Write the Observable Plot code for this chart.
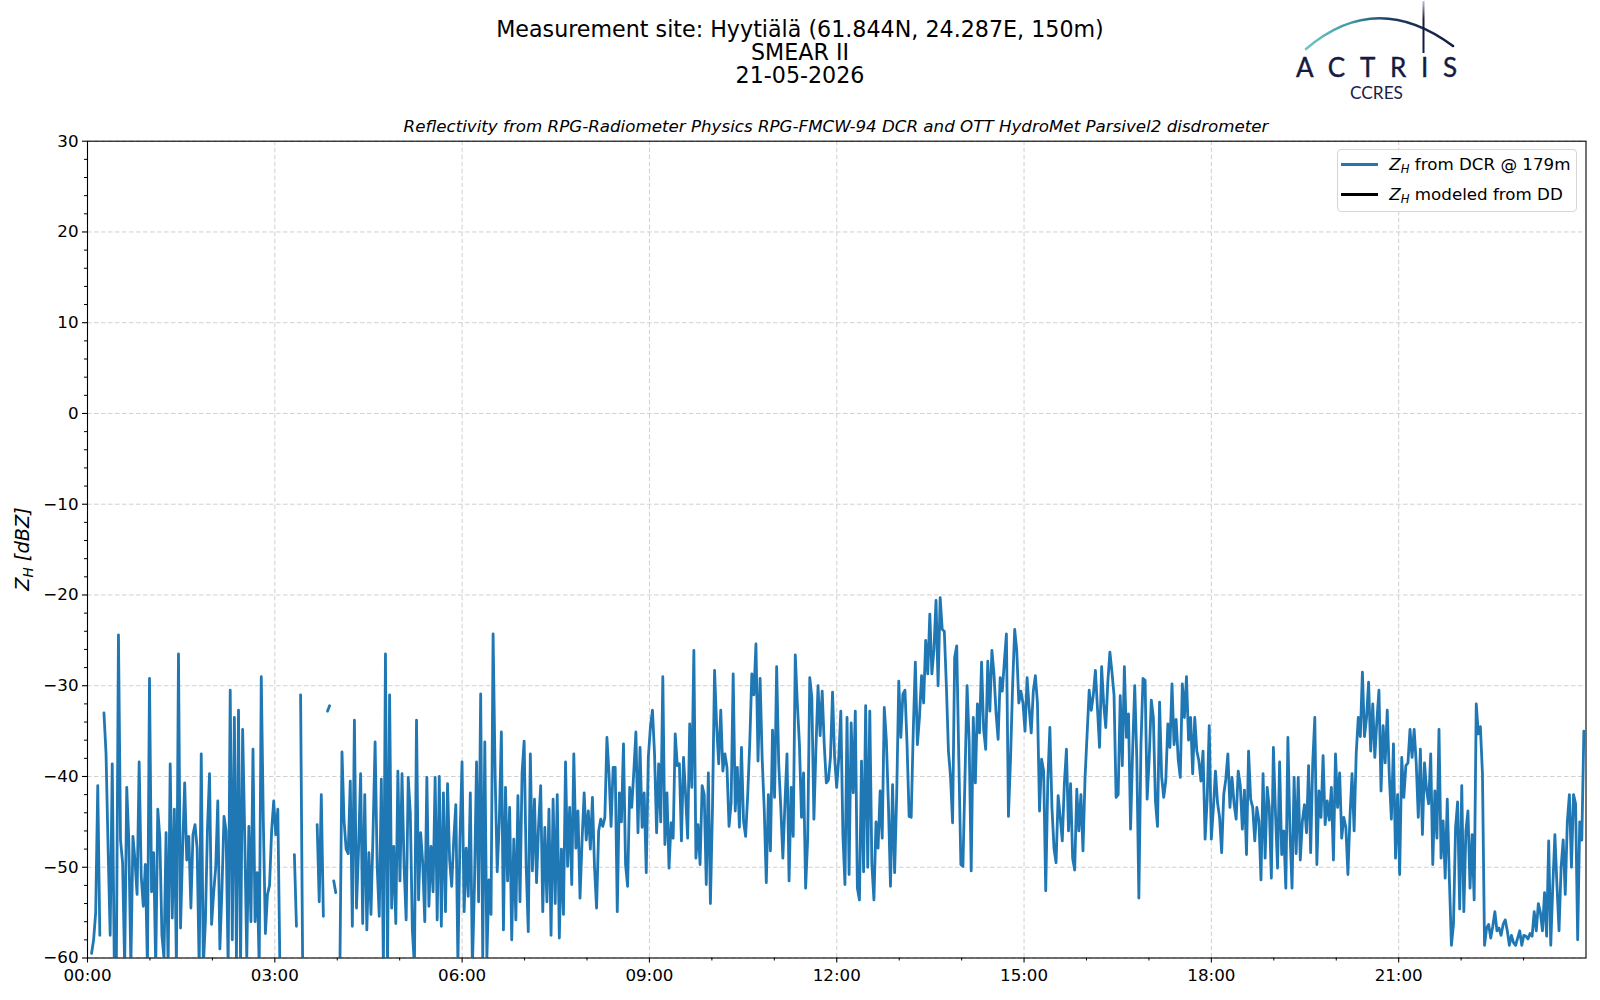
<!DOCTYPE html>
<html>
<head>
<meta charset="utf-8">
<script src="https://cdn.jsdelivr.net/npm/d3@7"></script>
<script src="https://cdn.jsdelivr.net/npm/@observablehq/plot@0.6"></script>
<style>
  html, body { margin: 0; padding: 0; background: #fff; }
  #wrap { position: relative; width: 1600px; height: 1000px; font-family: "DejaVu Sans", sans-serif; color: #000; overflow: hidden; }
  #wrap > svg { position: absolute; left: 0; top: 0; }
  .t { position: absolute; white-space: nowrap; line-height: 1; }
  .c { transform: translate(-50%, -50%); }
  .vc { transform: translateY(-50%); }
  sub { font-size: 0.7em; vertical-align: -0.28em; line-height: 0; }
</style>
</head>
<body>
<div id="wrap"></div>
<script>
// ---------------- data ----------------
const titleLines = ["Measurement site: Hyytiälä (61.844N, 24.287E, 150m)", "SMEAR II", "21-05-2026"];
const subtitle = "Reflectivity from RPG-Radiometer Physics RPG-FMCW-94 DCR and OTT HydroMet Parsivel2 disdrometer";
const legendLabels = ["from DCR @ 179m", "modeled from DD"];
const legendColors = ["#1f77b4", "#000000"];

const xMajorHours = [0, 3, 6, 9, 12, 15, 18, 21];
const xMinorHours = [1, 2, 4, 5, 7, 8, 10, 11, 13, 14, 16, 17, 19, 20, 22, 23];
const yMajorTicks = [-60, -50, -40, -30, -20, -10, 0, 10, 20, 30];
const yMinorTicks = [-58,-56,-54,-52,-48,-46,-44,-42,-38,-36,-34,-32,-28,-26,-24,-22,-18,-16,-14,-12,-8,-6,-4,-2,2,4,6,8,12,14,16,18,22,24,26,28];

// Z_H from DCR @ 179m, sampled about every 2 minutes (null = no data)
const firstMinute = 1.9;
const stepMinutes = 1.989;
const zhDcr = [
 null,-59.5,-58,-55,-41,-57.5,null,-33,-37.5,-48,
 -57.5,-38.6,-61,-60.5,-24.4,-47,-49.5,-61,-41.2,-47,
 -61,-46.6,-49.3,-53,-38.4,-51,-54.3,-49.7,-61,-29.2,
 -52.7,-48.4,-61,-43.6,-46.8,-57.5,-60,-46.2,-61,-38.6,
 -55.6,-43.6,-61,-26.5,-56.7,-48,-40.7,-49.2,-46.6,-54.5,
 -46.4,-45.3,-47.9,-61,-37.5,-61,-56,-45.8,-39.7,-56.3,
 -52.8,-50,-42.7,-59,-52.5,-44.4,-46,-61,-30.5,-58,
 -33.5,-60,-32.7,-61,-34.8,-46.4,-60,-45.5,-56,-37,
 -56,-50.6,-61,-29,-45,-57.3,-53,-52,-46,-42.7,
 -46.4,-43.6,-61,null,null,null,null,null,null,-48.6,
 -56.5,null,-31,-61,null,null,null,null,null,null,
 -45.3,-53.8,-42,-55.4,null,-32.8,-32.2,null,-51.5,-52.8,
 null,-61,-37.3,-44.9,-48,-48.5,-40.5,-56.5,-33.8,-54.5,
 -48,-39.7,-56.2,-42,-56.9,-48.4,-55.2,-46.2,-36.2,-49.9,
 -55.4,-40.3,-61,-26.5,-61,-31,-54.5,-47.7,-56.2,-39.4,
 -51.5,-39.7,-49.9,-55.8,-40.1,-44,-56.9,-61,-33.8,-53.6,
 -46.2,-49.5,-56,-40.1,-54.3,-47.7,-52.7,-40.1,-55.8,-40,
 -56.5,-41.8,-54.9,-40.8,-49.2,-52.1,-46.9,-43.1,-60.5,-46.9,
 -38.4,-54.9,-47.9,-53.2,-41.8,-61,-52,-38.4,-53.8,-30.9,
 -60,-36.2,-60,-51.4,-55.2,-24.3,-40,-50.5,-45,-35.1,
 -56.9,-41.2,-51.5,-43.4,-58,-46.9,-55.8,-42.1,-53.8,-39.6,
 -36.1,-50,-57.1,-37.5,-50.4,-42.5,-51.7,-45.3,-41,-54.9,
 -45.6,-53.8,-43.6,-57.5,-42.5,-54,-42,-57.8,-48,-55.2,
 -38.4,-49.9,-43.4,-51.9,-37.5,-47.9,-43.8,-53.4,-47,-41.8,
 -47,-43.8,-48,-42.3,-50,-54.5,-46,-44.7,-45.5,-44.5,
 -35.7,-39.7,-45.5,-39,-39,-54.9,-41.8,-45,-36.4,-49.7,
 -52.1,-41.2,-43.4,-39.4,-35.1,-46.2,-36.8,-45.6,-41.8,-50.6,
 -37.9,-34.6,-32.7,-37.5,-46.2,-38.6,-45,-29,-47.5,-41.8,
 -50.1,-45.1,-46.8,-35.3,-38.8,-38.6,-47.1,-37.9,-42,-46.8,
 -34.2,-41.2,-26.1,-49,-45.3,-49.7,-41,-42,-51.9,-39.6,
 -54,-43.5,-28.3,-34.4,-38.6,-32.7,-39.4,-37.5,-39,-45.5,
 -42.9,-28.7,-43.8,-39,-45.6,-36.8,-44.9,-46.6,-42.1,-36.4,
 -28.7,-31,-25.4,-38.3,-29.2,-38,-43.6,-51.7,-42,-48.2,
 -34.9,-42.3,-27.9,-38.6,-43.4,-49,-43,-37.5,-51.5,-41.2,
 -46.6,-26.6,-32,-36.4,-44.5,-39.6,-52.3,-46.8,-29.1,-31.3,
 -44.7,-36.8,-30,-35.5,-30.6,-36.5,-40.7,-40.4,-37.9,-30.7,
 -37.9,-41.2,-38,-32.8,-46.4,-51.9,-33.5,-50.8,-34.1,-41.8,
 -32.8,-52.3,-53.6,-38.3,-50.5,-32.2,-50,-32.8,-49.7,-53.6,
 -45,-47.9,-41.6,-46.8,-32.4,-36,-43.1,-52.1,-40.9,-50.6,
 -42,-29.5,-35.7,-30.9,-30.5,-36.5,-44.4,-44.5,-35,-27.4,
 -36.5,-33.5,-28.9,-31.9,-25,-28.7,-22.1,-28.7,-26,-20.6,
 -30,-20.3,-23.8,-24,-30,-37.2,-40,-45.1,-26.9,-25.6,
 -38,-49.7,-49.9,-40,-30,-36,-50.4,-33.5,-40.7,-32,
 -35.2,-27.4,-34.8,-37,-27.3,-32.8,-26.1,-28.7,-33,-35.9,
 -29.1,-30.6,-27.4,-24.3,-44.4,-38,-30,-23.8,-26.1,-31.9,
 -30.6,-31.9,-35,-29.1,-32.5,-35.2,-30.6,-28.9,-31.9,-43.8,
 -38.1,-39.4,-52.6,-40.5,-34.6,-43.4,-47.9,-49.5,-42.1,-44.5,
 -47.1,-40.8,-37,-46,-40.8,-49,-50.3,-41.4,-46,-42,
 -48.2,-40.1,-35.3,-30.5,-32.7,-31,-28.3,-32.5,-36.8,-27.9,
 -32,-34.6,-29.6,-26.3,-28.5,-31,-42.3,-42,-31.1,-38.8,
 -27.9,-35.7,-33.1,-45.8,-37,-30,-38,-53.4,-36.6,-29.2,
 -29.4,-42.5,-38,-31.6,-33.5,-42.7,-45.5,-31.8,-40,-42.3,
 -40.5,-34.2,-36.8,-29.8,-36.5,-33.7,-38.1,-40.1,-29.8,-33.5,
 -29,-36,-33.5,-39.7,-33.5,-37.2,-38.3,-40.5,-37.2,-46.9,
 -42.5,-34.4,-46.9,-43.5,-39.4,-42.9,-44.5,-48.4,-42,-40.3,
 -37.5,-43.4,-40.1,-43,-44.7,-39.4,-41,-45.8,-41.5,-48.6,
 -37.2,-42.5,-43.4,-47.1,-43.4,-44.9,-51.4,-39.7,-49,-41.2,
 -43.4,-51.2,-36.8,-44,-50.1,-38.4,-48.6,-46,-52.3,-35.7,
 -46,-52.3,-40.1,-48.5,-40.1,-49.2,-44.9,-43.1,-46.2,-38.8,
 -48.4,-38.5,-33.5,-49.7,-41.6,-44.5,-37.7,-45.3,-42.7,-44.8,
 -41.2,-49.2,-37.5,-43.4,-39.6,-46.8,-44.5,-45.6,-50.8,-44.4,
 -39.7,-46,-37.5,-33.5,-35.6,-28.5,-35.6,-33.5,-29.6,-37.2,
 -32,-37.9,-33.8,-30.5,-41.6,-34.4,-38.5,-32.7,-40,-44.7,
 -36.4,-49,-42,-50.8,-37.9,-42.3,-38.8,-38.5,-34.8,-37.9,
 -34.8,-38.5,-44.5,-37,-46.4,-38.5,-41.5,-43,-37.5,-49.7,
 -41.6,-46.8,-34.8,-49,-44.9,-51.2,-42.5,-51.2,-58.6,-56.3,
 -45.7,-42.8,-54.6,-41,-54.9,-46,-43.8,-52.3,-46.4,-53.6,
 -32,-35.3,-34.5,-39.7,-58.6,-56.7,-56.3,-57.8,-56.5,-54.9,
 -57,-56.7,-57.5,-56.3,-55.8,-57,-58.6,-57.5,-58.3,-58.6,
 -57.8,-57,-58.6,-57.5,-57.6,-57.9,-57.3,-57.6,-54.9,-57,
 -54,-55,-57,-52.8,-57.6,-47.1,-58.6,-52,-46.4,-52,
 -57,-50,-47,-53,-45,-42,-50,-42,-43,-58,
 -45,-47,-35
];

// ---------------- chart ----------------
const series = zhDcr.map((z, i) => ({ h: (firstMinute + i * stepMinutes) / 60, z }));
const fmtHour = h => String(h).padStart(2, "0") + ":00";
const fmtNum = v => (v < 0 ? "\u2212" + Math.abs(v) : String(v));
const gridStyle = { stroke: "#cbcbcb", strokeOpacity: 1, strokeWidth: 0.9, strokeDasharray: "4.5,2.5" };

const chart = Plot.plot({
  width: 1600,
  height: 1000,
  marginLeft: 87,
  marginRight: 14.5,
  marginTop: 140.7,
  marginBottom: 42.5,
  x: { domain: [0, 24] },
  y: { domain: [-60, 30] },
  style: { fontFamily: '"DejaVu Sans", sans-serif', fontSize: "16.7px", color: "#000", background: "transparent", overflow: "visible" },
  marks: [
    Plot.gridX({ ticks: xMajorHours, ...gridStyle }),
    Plot.gridY({ ticks: yMajorTicks, ...gridStyle }),
    Plot.line(series, { x: "h", y: "z", stroke: "#1f77b4", strokeWidth: 2.8, clip: true }),
    Plot.frame({ stroke: "#000", strokeWidth: 1.1 }),
    Plot.axisX({ ticks: xMajorHours, tickSize: 5, tickPadding: 6, tickFormat: fmtHour, label: null, fontSize: 16.7, strokeWidth: 1.1 }),
    Plot.axisX({ ticks: xMinorHours, tickSize: 3, tickFormat: () => "", label: null, strokeWidth: 1 }),
    Plot.axisY({ ticks: yMajorTicks, tickSize: 5, tickPadding: 4, tickFormat: fmtNum, label: null, fontSize: 16.7, strokeWidth: 1.1 }),
    Plot.axisY({ ticks: yMinorTicks, tickSize: 3, tickFormat: () => "", label: null, strokeWidth: 1 })
  ]
});

const wrap = document.getElementById("wrap");
wrap.appendChild(chart);

function addText(html, style, cls) {
  const d = document.createElement("div");
  d.className = "t " + (cls || "");
  d.innerHTML = html;
  Object.assign(d.style, style);
  wrap.appendChild(d);
  return d;
}

// title block (three centred lines in one text block)
addText(titleLines.join("<br>"), {
  left: "800px", top: "18px", fontSize: "22.2px", lineHeight: "23.1px",
  textAlign: "center", transform: "translateX(-50%)"
});
addText(subtitle, { left: "836px", top: "125.6px", fontSize: "16.7px", fontStyle: "italic" }, "c");

// y label
addText("Z<sub>H</sub> [dBZ]", { left: "22.5px", top: "549px", fontSize: "19.4px", fontStyle: "italic", transform: "translate(-50%,-50%) rotate(-90deg)" });

// legend
const box = document.createElement("div");
Object.assign(box.style, {
  position: "absolute", left: "1336.7px", top: "148.7px", width: "240.6px", height: "63.3px",
  boxSizing: "border-box", border: "1px solid #d6d6d6", borderRadius: "4px", background: "rgba(255,255,255,0.85)"
});
wrap.appendChild(box);
const legendY = [164.3, 194];
legendLabels.forEach((lab, i) => {
  const sw = document.createElement("div");
  Object.assign(sw.style, { position: "absolute", left: "1341px", top: Math.round(legendY[i] - 1.5) + "px", width: "36.7px", height: "3px", background: legendColors[i] });
  wrap.appendChild(sw);
  addText("<i>Z<sub>H</sub></i> " + lab, { left: "1389.3px", top: legendY[i] + "px", fontSize: "16.7px" }, "vc");
});

// logo
const logo = document.createElementNS("http://www.w3.org/2000/svg", "svg");
logo.setAttribute("width", "1600");
logo.setAttribute("height", "110");
logo.style.position = "absolute";
logo.style.left = "0";
logo.style.top = "0";
logo.innerHTML = `
  <defs>
    <linearGradient id="arcg" gradientUnits="userSpaceOnUse" x1="1306" y1="0" x2="1455" y2="0">
      <stop offset="0" stop-color="#73c7c0"/>
      <stop offset="0.3" stop-color="#3e9aa3"/>
      <stop offset="0.55" stop-color="#1d3f66"/>
      <stop offset="1" stop-color="#141a3e"/>
    </linearGradient>
    <linearGradient id="vg" gradientUnits="userSpaceOnUse" x1="0" y1="1" x2="0" y2="53">
      <stop offset="0" stop-color="#141a3e" stop-opacity="0.25"/>
      <stop offset="0.35" stop-color="#141a3e" stop-opacity="1"/>
      <stop offset="1" stop-color="#141a3e" stop-opacity="1"/>
    </linearGradient>
  </defs>
  <path d="M1306,49 Q1376,-11 1453,46" fill="none" stroke="url(#arcg)" stroke-width="2.6" stroke-linecap="round"/>
  <line x1="1423.5" y1="1" x2="1423.5" y2="53" stroke="url(#vg)" stroke-width="2"/>
  <text x="1296" y="77.3" font-family="Lato, 'Noto Sans', sans-serif" font-size="26" fill="#161a3f" stroke="#161a3f" stroke-width="0.4" textLength="161" lengthAdjust="spacing">ACTRIS</text>
  <text x="1350" y="99" font-family="Lato, 'Noto Sans', sans-serif" font-size="16.5" fill="#1c2048" textLength="53" lengthAdjust="spacingAndGlyphs">CCRES</text>
`;
wrap.appendChild(logo);
</script>
</body>
</html>
